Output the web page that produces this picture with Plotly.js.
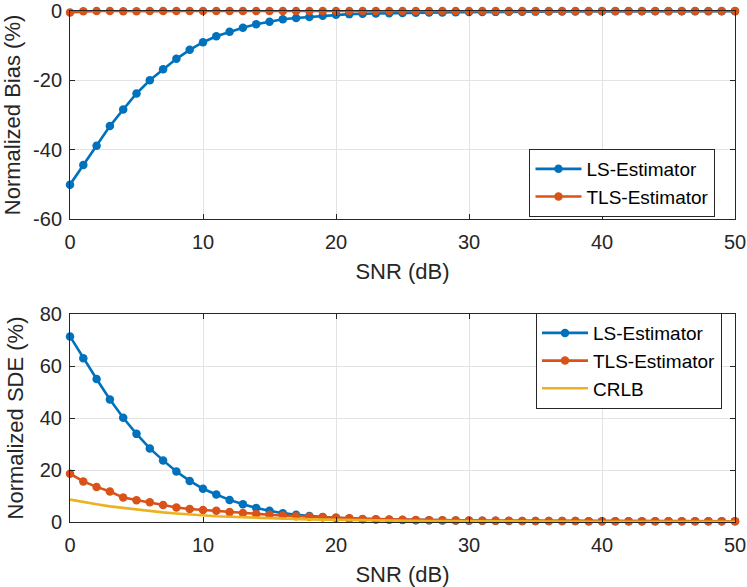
<!DOCTYPE html>
<html>
<head>
<meta charset="utf-8">
<script src="https://cdn.plot.ly/plotly-3.0.1.min.js"></script>
<style>
  html, body { margin: 0; padding: 0; background: #fff; }
  #chart { width: 747px; height: 587px; }
</style>
</head>
<body>
<div id="chart"></div>
<script>
// SNR axis, 0..50 dB in 1 dB steps
var snr = [0, 1, 2, 3, 4, 5, 6, 7, 8, 9, 10, 11, 12, 13, 14, 15, 16, 17, 18, 19, 20,
  21, 22, 23, 24, 25, 26, 27, 28, 29, 30, 31, 32, 33, 34, 35, 36, 37, 38, 39, 40,
  41, 42, 43, 44, 45, 46, 47, 48, 49, 50];

// tick labels for the bias axis (plain hyphen like matlab)
var biasTicks = [-60, -40, -20, 0];
var biasTickText = ['-60', '-40', '-20', '0'];

// normalized bias (%)
var biasLS = [-50.1, -44.4, -38.9, -33.2, -28.4, -23.8, -20.0, -16.8, -13.8, -11.2, -9.0,
  -7.3, -6.0, -4.8, -3.8, -3.1, -2.4, -2.0, -1.7, -1.4, -1.05,
  -0.9, -0.8, -0.7, -0.65, -0.6, -0.5, -0.45, -0.4, -0.35, -0.3,
  -0.28, -0.25, -0.22, -0.2, -0.18, -0.16, -0.15, -0.13, -0.12, -0.1,
  -0.1, -0.09, -0.08, -0.07, -0.07, -0.06, -0.05, -0.05, -0.05, -0.04];
// TLS bias sits on the 0 line (tiny wiggles near 0 dB)
var biasTLS = [-0.4, -0.1, 0, 0, -0.05, -0.05, -0.02, -0.03, -0.01, 0, -0.02,
  -0.01, -0.01, 0, 0, -0.01, 0, 0, 0, -0.01, 0,
  0, 0, -0.01, 0, 0, 0, 0, -0.01, 0, 0,
  0, 0, 0, 0, 0, -0.01, 0, 0, 0, 0,
  0, 0, 0, 0, 0, 0, 0, 0, 0, 0];

// normalized SDE (%)
var sdeLS = [71.4, 63.0, 55.0, 47.1, 40.1, 33.9, 28.3, 23.7, 19.4, 15.8, 12.8,
  10.6, 8.5, 6.8, 5.4, 4.3, 3.4, 2.8, 2.3, 1.9, 1.6,
  1.3, 1.1, 1.0, 0.9, 0.8, 0.72, 0.65, 0.6, 0.55, 0.5,
  0.47, 0.44, 0.42, 0.4, 0.38, 0.36, 0.35, 0.34, 0.33, 0.32,
  0.31, 0.3, 0.3, 0.29, 0.29, 0.28, 0.28, 0.28, 0.27, 0.27];
var sdeTLS = [18.6, 15.6, 13.5, 11.7, 9.4, 8.4, 7.6, 6.5, 5.6, 5.0, 4.6,
  4.3, 3.8, 3.5, 3.1, 2.8, 2.5, 2.2, 2.0, 1.8, 1.6,
  1.4, 1.2, 1.1, 1.0, 0.9, 0.8, 0.72, 0.65, 0.6, 0.55,
  0.5, 0.47, 0.44, 0.42, 0.4, 0.38, 0.36, 0.34, 0.33, 0.32,
  0.31, 0.3, 0.29, 0.28, 0.28, 0.27, 0.27, 0.26, 0.26, 0.26];
var crlb = [8.6, 7.6, 6.8, 6.0, 5.4, 4.8, 4.2, 3.7, 3.3, 2.9, 2.5,
  2.2, 2.0, 1.8, 1.6, 1.4, 1.2, 1.1, 1.0, 0.9, 0.8,
  0.72, 0.65, 0.58, 0.52, 0.47, 0.42, 0.38, 0.34, 0.3, 0.27,
  0.24, 0.22, 0.2, 0.18, 0.16, 0.14, 0.13, 0.12, 0.11, 0.1,
  0.09, 0.08, 0.07, 0.06, 0.06, 0.05, 0.05, 0.04, 0.04, 0.03];

var blue = '#0072BD', orange = '#D95319', yellow = '#EDB120';   // matlab default order
var ink = '#262626';

function est(name, y, color, ya, leg) {
  return {
    x: snr, y: y, name: name, type: 'scatter', mode: 'lines+markers',
    xaxis: ya == 'y' ? 'x' : 'x2', yaxis: ya, legend: leg,
    line: {color: color, width: 2.6},
    marker: {color: color, size: 8.5},
    cliponaxis: false
  };
}

var data = [
  est('LS-Estimator', biasLS, blue, 'y', 'legend'),
  est('TLS-Estimator', biasTLS, orange, 'y', 'legend'),
  est('LS-Estimator', sdeLS, blue, 'y2', 'legend2'),
  est('TLS-Estimator', sdeTLS, orange, 'y2', 'legend2'),
  {
    x: snr, y: crlb, name: 'CRLB', type: 'scatter', mode: 'lines',
    xaxis: 'x2', yaxis: 'y2', legend: 'legend2',
    line: {color: yellow, width: 2.6},
    cliponaxis: false
  }
];

function ax(extra) {
  var a = {
    showline: true, mirror: 'ticks', linecolor: ink, linewidth: 1,
    ticks: 'inside', ticklen: 5, tickcolor: ink, tickwidth: 1,
    showgrid: true, gridcolor: '#e3e3e3', gridwidth: 1,
    zeroline: false, automargin: false, ticklabeloverflow: 'allow',
    tickfont: {size: 20, color: ink}
  };
  for (var k in extra) a[k] = extra[k];
  return a;
}

var legendStyle = {
  bgcolor: '#ffffff', bordercolor: ink, borderwidth: 1,
  font: {size: 19, color: '#000'}, itemwidth: 46,
  xanchor: 'center', yanchor: 'middle', tracegroupgap: 0
};

var layout = {
  width: 747, height: 587,
  margin: {l: 70, r: 12, t: 11, b: 65},
  paper_bgcolor: '#fff', plot_bgcolor: '#fff',
  font: {family: 'Liberation Sans, Arial, sans-serif', color: ink},
  xaxis: ax({domain: [0, 1], anchor: 'y', range: [0, 50], dtick: 10,
    ticklabelstandoff: 5,
    title: {text: 'SNR (dB)', font: {size: 22}, standoff: 11}}),
  yaxis: ax({domain: [0.593, 1], anchor: 'x', range: [-60, 0],
    tickmode: 'array', tickvals: biasTicks, ticktext: biasTickText,
    ticklabelstandoff: 3,
    title: {text: 'Normalized Bias (%)', font: {size: 22}, standoff: 10}}),
  xaxis2: ax({domain: [0, 1], anchor: 'y2', range: [0, 50], dtick: 10,
    ticklabelstandoff: 5,
    title: {text: 'SNR (dB)', font: {size: 22}, standoff: 14}}),
  yaxis2: ax({domain: [0, 0.407], anchor: 'x2', range: [0, 80], dtick: 20,
    ticklabelstandoff: 3,
    title: {text: 'Normalized SDE (%)', font: {size: 22}, standoff: 10}}),
  showlegend: true,
  legend: Object.assign({x: 0.8308, y: 0.6634}, legendStyle),
  legend2: Object.assign({x: 0.8406, y: 0.315}, legendStyle)
};

Plotly.newPlot('chart', data, layout, {staticPlot: true});
</script>
</body>
</html>
